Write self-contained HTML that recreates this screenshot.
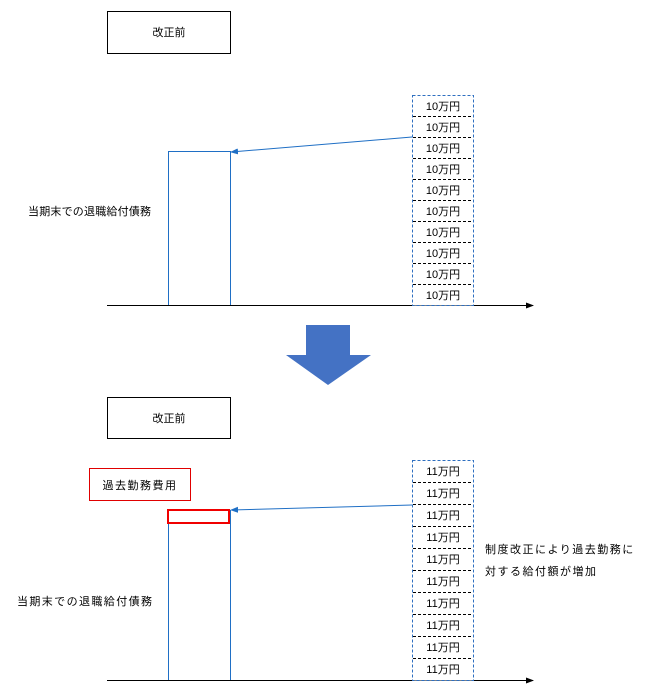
<!DOCTYPE html>
<html><head><meta charset="utf-8"><style>
body{margin:0;background:#fff;}
svg text{font-family:"Liberation Sans","Noto Sans CJK JP",sans-serif;font-size:11px;fill:#000;}
</style></head><body>
<svg width="655" height="694" xmlns="http://www.w3.org/2000/svg">
<defs>
<marker id="ab" markerWidth="8" markerHeight="8" refX="7" refY="4" orient="auto" markerUnits="userSpaceOnUse"><path d="M0,1 L8,4 L0,7 Z" fill="#000"/></marker>
<marker id="bl" markerWidth="8" markerHeight="8" refX="7" refY="4" orient="auto" markerUnits="userSpaceOnUse"><path d="M0,1 L8,4 L0,7 Z" fill="#1f6fc5"/></marker>
</defs>
<rect x="107.5" y="11.5" width="123" height="42" fill="#fff" stroke="#000"/>
<text x="169" y="36" text-anchor="middle">改正前</text>
<rect x="168.5" y="151.5" width="62" height="154" fill="none" stroke="#1f6fc5"/>
<line x1="107" y1="305.5" x2="533" y2="305.5" stroke="#000" marker-end="url(#ab)"/>
<text x="28" y="215" letter-spacing="0.2">当期末での退職給付債務</text>
<rect x="412.5" y="95.5" width="61" height="210" fill="#fff" stroke="#2e6fc0" stroke-dasharray="3,2"/>
<g stroke="#000" stroke-dasharray="3,2">
<line x1="413" y1="116.5" x2="473" y2="116.5"/><line x1="413" y1="137.5" x2="473" y2="137.5"/>
<line x1="413" y1="158.5" x2="473" y2="158.5"/><line x1="413" y1="179.5" x2="473" y2="179.5"/>
<line x1="413" y1="200.5" x2="473" y2="200.5"/><line x1="413" y1="221.5" x2="473" y2="221.5"/>
<line x1="413" y1="242.5" x2="473" y2="242.5"/><line x1="413" y1="263.5" x2="473" y2="263.5"/>
<line x1="413" y1="284.5" x2="473" y2="284.5"/>
</g>
<g text-anchor="middle">
<text x="443" y="110">10万円</text><text x="443" y="131">10万円</text><text x="443" y="152">10万円</text>
<text x="443" y="173">10万円</text><text x="443" y="194">10万円</text><text x="443" y="215">10万円</text>
<text x="443" y="236">10万円</text><text x="443" y="257">10万円</text><text x="443" y="278">10万円</text>
<text x="443" y="299">10万円</text>
</g>
<line x1="412" y1="137" x2="231" y2="152" stroke="#1f6fc5" marker-end="url(#bl)"/>
<path d="M306,325 H350 V355 H371 L328,385 L286,355 H306 Z" fill="#4472c4"/>
<rect x="107.5" y="397.5" width="123" height="41" fill="#fff" stroke="#000"/>
<text x="169" y="422" text-anchor="middle">改正前</text>
<rect x="89.5" y="468.5" width="101" height="32" fill="#fff" stroke="#e00000"/>
<text x="140" y="489" text-anchor="middle" letter-spacing="1.5">過去勤務費用</text>
<rect x="168.5" y="510.5" width="62" height="170" fill="none" stroke="#1f6fc5"/>
<rect x="168" y="510" width="61" height="13" fill="none" stroke="#f00000" stroke-width="2"/>
<line x1="107" y1="680.5" x2="533" y2="680.5" stroke="#000" marker-end="url(#ab)"/>
<text x="17" y="605" letter-spacing="1.4">当期末での退職給付債務</text>
<text x="485" y="553" letter-spacing="1.5">制度改正により過去勤務に</text>
<text x="485" y="575" letter-spacing="1.5">対する給付額が増加</text>
<rect x="412.5" y="460.5" width="61" height="220" fill="#fff" stroke="#2e6fc0" stroke-dasharray="3,2"/>
<g stroke="#000" stroke-dasharray="3,2">
<line x1="413" y1="482.5" x2="473" y2="482.5"/><line x1="413" y1="504.5" x2="473" y2="504.5"/>
<line x1="413" y1="526.5" x2="473" y2="526.5"/><line x1="413" y1="548.5" x2="473" y2="548.5"/>
<line x1="413" y1="570.5" x2="473" y2="570.5"/><line x1="413" y1="592.5" x2="473" y2="592.5"/>
<line x1="413" y1="614.5" x2="473" y2="614.5"/><line x1="413" y1="636.5" x2="473" y2="636.5"/>
<line x1="413" y1="658.5" x2="473" y2="658.5"/>
</g>
<g text-anchor="middle">
<text x="443" y="475">11万円</text><text x="443" y="497">11万円</text><text x="443" y="519">11万円</text>
<text x="443" y="541">11万円</text><text x="443" y="563">11万円</text><text x="443" y="585">11万円</text>
<text x="443" y="607">11万円</text><text x="443" y="629">11万円</text><text x="443" y="651">11万円</text>
<text x="443" y="673">11万円</text>
</g>
<line x1="412" y1="505" x2="231" y2="510" stroke="#1f6fc5" marker-end="url(#bl)"/>
</svg>
</body></html>
